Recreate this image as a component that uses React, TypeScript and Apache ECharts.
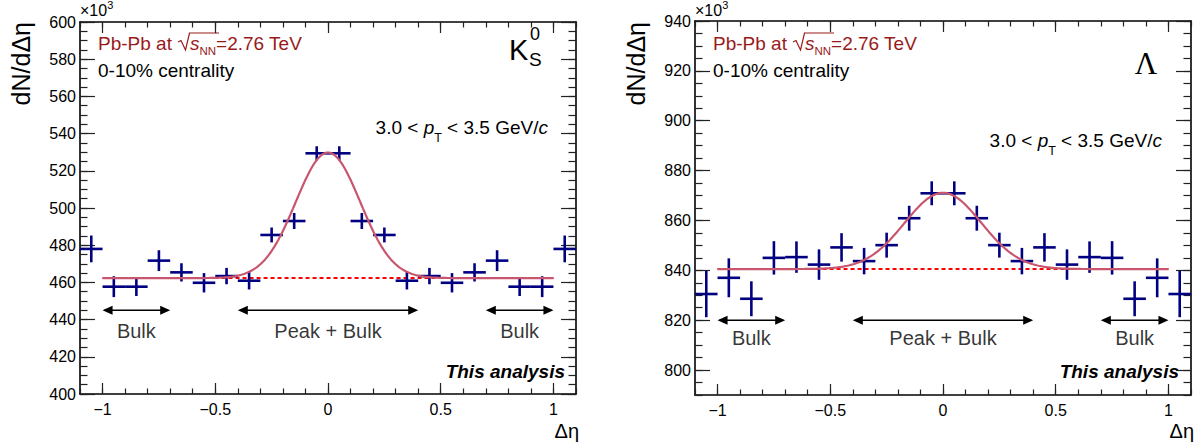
import React, { useEffect, useRef } from "react";
import * as echarts from "echarts";

// ---------------- data ----------------
const binCenters = [
  -1.05, -0.95, -0.85, -0.75, -0.65, -0.55, -0.45, -0.35, -0.25, -0.15, -0.05,
  0.05, 0.15, 0.25, 0.35, 0.45, 0.55, 0.65, 0.75, 0.85, 0.95, 1.05,
];
const binHalfWidth = 0.05;

const k0Yield = [
  478.0, 457.7, 457.7, 471.7, 465.4, 459.8, 463.4, 460.9, 485.5, 493.0, 529.4,
  529.4, 493.0, 485.5, 460.9, 463.4, 459.8, 465.4, 471.7, 457.7, 457.7, 478.0,
];
const k0Error = [
  7.2, 5.6, 5.0, 5.6, 4.9, 5.2, 4.4, 4.7, 4.0, 4.3, 3.8,
  3.8, 4.3, 4.0, 4.7, 4.4, 5.2, 4.9, 5.6, 5.0, 5.6, 7.2,
];
const lambdaYield = [
  830.5, 837.0, 828.6, 845.0, 845.3, 842.3, 849.2, 843.7, 850.1, 860.9, 870.9,
  870.9, 860.9, 850.1, 843.7, 849.2, 842.3, 845.3, 845.0, 828.6, 837.0, 830.5,
];
const lambdaError = [
  9.3, 7.8, 7.0, 6.7, 6.3, 6.1, 5.7, 5.3, 5.0, 5.0, 4.8,
  4.8, 5.0, 5.0, 5.3, 5.7, 6.1, 6.3, 6.7, 7.0, 7.8, 9.3,
];

// fit parameters (constant + gaussian), drawn over fitRange
const k0Fit = { base: 462.3, amp: 67.5, sigma: 0.143 };
const lambdaFit = { base: 840.5, amp: 30.6, sigma: 0.17 };
const fitRange = [-1, 1];

// axes
const xRange = [-1.1, 1.1];
const xMajorTicks = [-1, -0.5, 0, 0.5, 1];
const xMinorTicks = [
  -1.1, -1.0, -0.9, -0.8, -0.7, -0.6, -0.5, -0.4, -0.3, -0.2, -0.1, 0,
  0.1, 0.2, 0.3, 0.4, 0.5, 0.6, 0.7, 0.8, 0.9, 1.0, 1.1,
];
const k0YRange = [400, 600];
const k0YMajor = [400, 420, 440, 460, 480, 500, 520, 540, 560, 580, 600];
const lambdaYRange = [790, 940];
const lambdaYMajor = [800, 820, 840, 860, 880, 900, 920, 940];
const yMinorStep = 5;

// analysis regions
const regionArrows = [[-1, -0.7], [-0.4, 0.4], [0.7, 1]];
const regionLabels = ["Bulk", "Peak + Bulk", "Bulk"];
const regionLabelX = [-0.85, 0, 0.85];
const k0ArrowY = 445;
const k0LabelY = 434;
const lambdaArrowY = 820;
const lambdaLabelY = 813;

// ---------------- helpers ----------------
const FONT = "'Liberation Sans', Arial, Helvetica, sans-serif";
const MARKER = "#000080";
const FITCOL = "#c8566e";
const DARKRED = "#991a1a";

function minorTicks(range: number[], step: number) {
  const out: number[] = [];
  for (let v = range[0]; v <= range[1] + 1e-9; v += step) out.push(Math.round(v * 1000) / 1000);
  return out;
}

function fitCurve(p: { base: number; amp: number; sigma: number }) {
  const pts: number[][] = [];
  const n = 400;
  for (let i = 0; i <= n; i++) {
    const x = fitRange[0] + ((fitRange[1] - fitRange[0]) * i) / n;
    pts.push([x, p.base + p.amp * Math.exp(-(x * x) / (2 * p.sigma * p.sigma))]);
  }
  return pts;
}

const fmtX = (v: number) => (v < 0 ? "\u2212" + String(-v) : String(v));

function xAxesFor(gridIndex: number) {
  const base = {
    type: "value",
    gridIndex,
    min: xRange[0],
    max: xRange[1],
    splitLine: { show: false },
  };
  const tickStyle = { color: "#222", width: 1.2 };
  return [
    {
      ...base,
      position: "bottom",
      axisLine: { show: true, onZero: false, lineStyle: { color: "#000", width: 1.6 } },
      axisTick: { show: true, inside: true, length: 11, customValues: xMajorTicks, lineStyle: tickStyle },
      axisLabel: {
        show: true,
        customValues: xMajorTicks,
        formatter: fmtX,
        margin: 7,
        fontSize: 16,
        fontFamily: FONT,
        color: "#000",
      },
    },
    {
      ...base,
      position: "bottom",
      axisLine: { show: false, onZero: false },
      axisTick: { show: true, inside: true, length: 5.5, customValues: xMinorTicks, lineStyle: tickStyle },
      axisLabel: { show: false },
    },
    {
      ...base,
      position: "top",
      axisLine: { show: true, onZero: false, lineStyle: { color: "#000", width: 1.6 } },
      axisTick: { show: true, inside: true, length: 11, customValues: xMajorTicks, lineStyle: tickStyle },
      axisLabel: { show: false },
    },
    {
      ...base,
      position: "top",
      axisLine: { show: false, onZero: false },
      axisTick: { show: true, inside: true, length: 5.5, customValues: xMinorTicks, lineStyle: tickStyle },
      axisLabel: { show: false },
    },
  ];
}

function yAxesFor(gridIndex: number, range: number[], major: number[]) {
  const minor = minorTicks(range, yMinorStep);
  const base = {
    type: "value",
    gridIndex,
    min: range[0],
    max: range[1],
    splitLine: { show: false },
  };
  const tickStyle = { color: "#222", width: 1.2 };
  return [
    {
      ...base,
      position: "left",
      axisLine: { show: true, onZero: false, lineStyle: { color: "#000", width: 1.6 } },
      axisTick: { show: true, inside: true, length: 15, customValues: major, lineStyle: tickStyle },
      axisLabel: {
        show: true,
        customValues: major,
        margin: 4,
        fontSize: 16,
        fontFamily: FONT,
        color: "#000",
      },
    },
    {
      ...base,
      position: "left",
      axisLine: { show: false, onZero: false },
      axisTick: { show: true, inside: true, length: 7.5, customValues: minor, lineStyle: tickStyle },
      axisLabel: { show: false },
    },
    {
      ...base,
      position: "right",
      axisLine: { show: true, onZero: false, lineStyle: { color: "#000", width: 1.6 } },
      axisTick: { show: true, inside: true, length: 15, customValues: major, lineStyle: tickStyle },
      axisLabel: { show: false },
    },
    {
      ...base,
      position: "right",
      axisLine: { show: false, onZero: false },
      axisTick: { show: true, inside: true, length: 7.5, customValues: minor, lineStyle: tickStyle },
      axisLabel: { show: false },
    },
  ];
}

function panelSeries(
  axisIndex: number,
  yields: number[],
  errors: number[],
  fit: { base: number; amp: number; sigma: number },
  arrowY: number,
  labelY: number
) {
  return [
    {
      type: "line",
      xAxisIndex: axisIndex,
      yAxisIndex: axisIndex,
      data: [
        [fitRange[0], fit.base],
        [fitRange[1], fit.base],
      ],
      showSymbol: false,
      symbol: "none",
      lineStyle: { color: "#ff0000", width: 2, type: [4, 3] },
      z: 2,
      silent: true,
    },
    {
      type: "custom",
      xAxisIndex: axisIndex,
      yAxisIndex: axisIndex,
      data: binCenters.map((x, i) => [x, yields[i], errors[i]]),
      encode: { x: 0, y: 1 },
      z: 3,
      silent: true,
      renderItem: (_params: any, api: any) => {
        const x = api.value(0);
        const y = api.value(1);
        const e = api.value(2);
        const pL = api.coord([x - binHalfWidth, y]);
        const pR = api.coord([x + binHalfWidth, y]);
        const pT = api.coord([x, y + e]);
        const pB = api.coord([x, y - e]);
        const style = { stroke: MARKER, lineWidth: 2.6 };
        return {
          type: "group",
          children: [
            { type: "line", shape: { x1: pL[0], y1: pL[1], x2: pR[0], y2: pR[1] }, style },
            { type: "line", shape: { x1: pT[0], y1: pT[1], x2: pB[0], y2: pB[1] }, style },
          ],
        };
      },
    },
    {
      type: "line",
      xAxisIndex: axisIndex,
      yAxisIndex: axisIndex,
      data: fitCurve(fit),
      showSymbol: false,
      symbol: "none",
      smooth: false,
      lineStyle: { color: FITCOL, width: 2.2 },
      z: 4,
      silent: true,
    },
    {
      // double-headed arrows marking the analysis regions
      type: "custom",
      xAxisIndex: axisIndex,
      yAxisIndex: axisIndex,
      data: regionArrows.map((a) => [a[0], a[1], arrowY]),
      encode: { x: [0, 1], y: 2 },
      z: 5,
      silent: true,
      renderItem: (_params: any, api: any) => {
        const p0 = api.coord([api.value(0), api.value(2)]);
        const p1 = api.coord([api.value(1), api.value(2)]);
        const L = 10;
        const W = 4.5;
        return {
          type: "group",
          children: [
            {
              type: "line",
              shape: { x1: p0[0] + 2, y1: p0[1], x2: p1[0] - 2, y2: p1[1] },
              style: { stroke: "#000", lineWidth: 1.6 },
            },
            {
              type: "polygon",
              shape: { points: [[p0[0], p0[1]], [p0[0] + L, p0[1] - W], [p0[0] + L, p0[1] + W]] },
              style: { fill: "#000" },
            },
            {
              type: "polygon",
              shape: { points: [[p1[0], p1[1]], [p1[0] - L, p1[1] - W], [p1[0] - L, p1[1] + W]] },
              style: { fill: "#000" },
            },
          ],
        };
      },
    },
    {
      type: "scatter",
      xAxisIndex: axisIndex,
      yAxisIndex: axisIndex,
      symbolSize: 1,
      itemStyle: { color: "rgba(0,0,0,0)" },
      silent: true,
      z: 5,
      data: regionLabels.map((n, i) => ({ name: n, value: [regionLabelX[i], labelY] })),
      label: {
        show: true,
        position: "inside",
        formatter: "{b}",
        fontSize: 20,
        fontFamily: FONT,
        color: "#000",
      },
    },
  ];
}

function panelGraphics(dx: number, extra: { pTx: number; pTy: number; taX: number; detaX: number; yTitleX: number }) {
  const g: any[] = [];
  // x10^3
  g.push({
    type: "text",
    x: 80 + dx,
    y: 10,
    style: {
      text: "\u00d710{sup|3}",
      fontSize: 16,
      fontFamily: FONT,
      fill: "#000",
      verticalAlign: "middle",
      rich: { sup: { fontSize: 11, fontFamily: FONT, fill: "#000", padding: [0, 0, 10, 0] } },
    },
  });
  // y title
  g.push({
    type: "text",
    x: extra.yTitleX,
    y: 22,
    rotation: Math.PI / 2,
    style: {
      text: "dN/d\u0394\u03b7",
      fontSize: 25,
      fontFamily: FONT,
      fill: "#000",
      align: "right",
      verticalAlign: "middle",
    },
  });
  // collision system
  g.push({
    type: "text",
    x: 98 + dx,
    y: 43,
    style: { text: "Pb-Pb at", fontSize: 19, fontFamily: FONT, fill: DARKRED, verticalAlign: "middle" },
  });
  g.push({
    type: "polyline",
    shape: {
      points: [
        [178 + dx, 42],
        [181 + dx, 40.5],
        [185.5 + dx, 50],
        [189.5 + dx, 33],
        [219 + dx, 33],
      ],
    },
    style: { stroke: DARKRED, lineWidth: 1.2, fill: "none" },
  });
  g.push({
    type: "text",
    x: 190 + dx,
    y: 43,
    style: {
      text: "{i|s}{sub|NN}=2.76 TeV",
      fontSize: 19,
      fontFamily: FONT,
      fill: DARKRED,
      verticalAlign: "middle",
      rich: {
        i: { fontSize: 19, fontFamily: FONT, fontStyle: "italic", fill: DARKRED },
        sub: { fontSize: 11.5, fontFamily: FONT, fill: DARKRED, padding: [15, 0, 0, 0] },
      },
    },
  });
  g.push({
    type: "text",
    x: 98 + dx,
    y: 70,
    style: { text: "0-10% centrality", fontSize: 19, fontFamily: FONT, fill: "#000", verticalAlign: "middle" },
  });
  // pT range
  g.push({
    type: "text",
    x: extra.pTx,
    y: extra.pTy,
    style: {
      text: "3.0 < {i|p}{sub|T} < 3.5 GeV/{i|c}",
      fontSize: 19,
      fontFamily: FONT,
      fill: "#000",
      align: "right",
      verticalAlign: "middle",
      rich: {
        i: { fontSize: 19, fontFamily: FONT, fontStyle: "italic", fill: "#000" },
        sub: { fontSize: 12.5, fontFamily: FONT, fill: "#000", padding: [22, 0, 0, 0] },
      },
    },
  });
  // This analysis
  g.push({
    type: "text",
    x: extra.taX,
    y: 371,
    style: {
      text: "This analysis",
      fontSize: 19,
      fontFamily: FONT,
      fontWeight: "bold",
      fontStyle: "italic",
      fill: "#000",
      align: "right",
      verticalAlign: "middle",
    },
  });
  // x title
  g.push({
    type: "text",
    x: extra.detaX,
    y: 431,
    style: {
      text: "\u0394\u03b7",
      fontSize: 20,
      fontFamily: FONT,
      fill: "#000",
      align: "right",
      verticalAlign: "middle",
    },
  });
  return g;
}

export default function App() {
  const ref = useRef<HTMLDivElement>(null);
  useEffect(() => {
    if (!ref.current) return;
    const chart = echarts.init(ref.current, undefined, { renderer: "svg" });
    const graphics = [
      ...panelGraphics(0, { pTx: 548, pTy: 127, taX: 565, detaX: 579, yTitleX: 21 }),
      ...panelGraphics(615, { pTx: 1162, pTy: 140, taX: 1179, detaX: 1194, yTitleX: 636 }),
      // particle labels
      { type: "text", x: 509, y: 50, style: { text: "K", fontSize: 29, fontFamily: FONT, fill: "#000", verticalAlign: "middle" } },
      { type: "text", x: 530, y: 34, style: { text: "0", fontSize: 18, fontFamily: FONT, fill: "#000", verticalAlign: "middle" } },
      { type: "text", x: 529, y: 59, style: { text: "S", fontSize: 19, fontFamily: FONT, fill: "#000", verticalAlign: "middle" } },
      {
        type: "text",
        x: 1146,
        y: 63,
        style: { text: "\u039b", fontSize: 31, fontFamily: "'Liberation Serif', 'Times New Roman', serif", fill: "#000", align: "center", verticalAlign: "middle" },
      },
    ];
    const option: any = {
      animation: false,
      backgroundColor: "#fff",
      grid: [
        { left: 80, top: 22, width: 496, height: 372 },
        { left: 695, top: 21, width: 496, height: 374 },
      ],
      xAxis: [...xAxesFor(0), ...xAxesFor(1)],
      yAxis: [...yAxesFor(0, k0YRange, k0YMajor), ...yAxesFor(1, lambdaYRange, lambdaYMajor)],
      series: [
        ...panelSeries(0, k0Yield, k0Error, k0Fit, k0ArrowY, k0LabelY),
        ...panelSeries(4, lambdaYield, lambdaError, lambdaFit, lambdaArrowY, lambdaLabelY),
      ],
      graphic: graphics,
    };
    chart.setOption(option);
    return () => chart.dispose();
  }, []);
  return <div ref={ref} style={{ position: "fixed", left: 0, top: 0, width: 1200, height: 444 }} />;
}
